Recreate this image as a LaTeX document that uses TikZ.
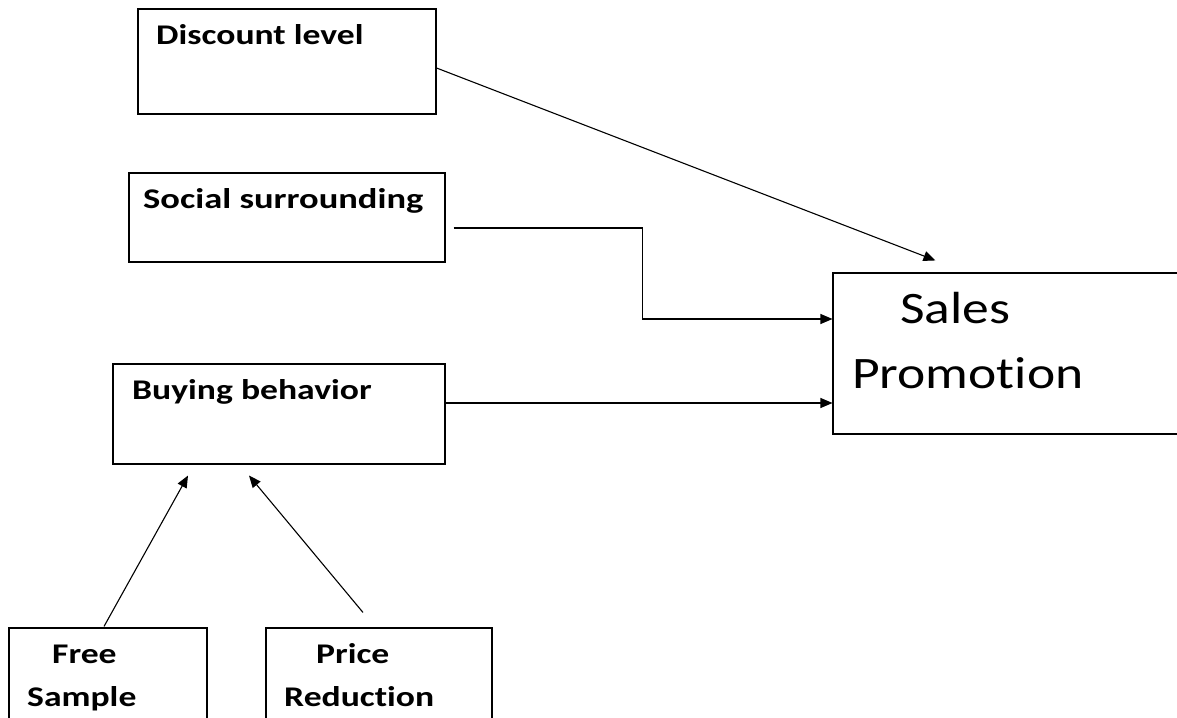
\documentclass[tikz,border=0pt]{standalone}
\usepackage{fontspec}
\setmainfont[Ligatures=NoCommon]{Carlito}
\usetikzlibrary{calc,arrows.meta}
\tikzset{
  box/.style={draw=black, line width=1.1pt, rectangle, inner sep=0pt},
  lbl/.style={anchor=base west, inner sep=0pt, font=\fontsize{28.5}{34}\selectfont\bfseries},
  big/.style={anchor=base west, inner sep=0pt, font=\fontsize{45}{54}\selectfont},
  conn/.style={draw=black, line width=1.1pt},
  arr/.style={conn, -{Triangle[length=12pt,width=10pt]}}
}
\newcommand{\sx}[2]{\scalebox{#1}[1]{#2}}
\begin{document}
\begin{tikzpicture}[x=1pt,y=-1pt]
\clip (0,0) rectangle (1177,717);
\fill[white] (0,0) rectangle (1177,717);
% boxes
\node[box, minimum width=298pt, minimum height=105pt] (disc) at (287,61.5) {};
\node[box, minimum width=316pt, minimum height=89pt] (soc) at (287,217.5) {};
\node[box, minimum width=332pt, minimum height=100pt] (buy) at (279,414) {};
\node[box, minimum width=198pt, minimum height=112pt] (free) at (108,684) {};
\node[box, minimum width=226pt, minimum height=112pt] (price) at (379,684) {};
\node[box, minimum width=367pt, minimum height=161pt] (sales) at (1016.5,353.5) {};
% texts
\node[lbl] (tdisc) at (156,45) {\sx{1.25}{Discount level}};
\node[lbl] (tsoc) at (143,208) {\sx{1.28}{Social surrounding}};
\node[lbl] (tbuy) at (132,399) {\sx{1.25}{Buying behavior}};
\node[lbl] (tfree1) at (52,663) {\sx{1.25}{Free}};
\node[lbl] (tfree2) at (27,706) {\sx{1.25}{Sample}};
\node[lbl] (tprice1) at (316,663) {\sx{1.25}{Price}};
\node[lbl] (tprice2) at (284,706) {\sx{1.25}{Reduction}};
\node[big] (tsales1) at (900,323) {\sx{1.19}{Sales}};
\node[big] (tsales2) at (852,388) {\sx{1.19}{Promotion}};
% connectors
\draw[arr] ($(disc.east)+(0,6.5)$) -- ($(sales.north west)+(103,-12)$);
\draw[arr] ($(soc.east)+(8,10.5)$) -| ($(sales.west)+(-190,-34.5)$) -- ($(sales.west)+(0,-34.5)$);
\draw[arr] ($(buy.east)+(0,-11)$) -- ($(sales.west)+(0,49.5)$);
\draw[arr] ($(free.north)+(-4,-1)$) -- ($(buy.south)+(-91,11)$);
\draw[arr] ($(price.north)+(-16,-15)$) -- ($(buy.south)+(-30,11)$);
\end{tikzpicture}
\end{document}
